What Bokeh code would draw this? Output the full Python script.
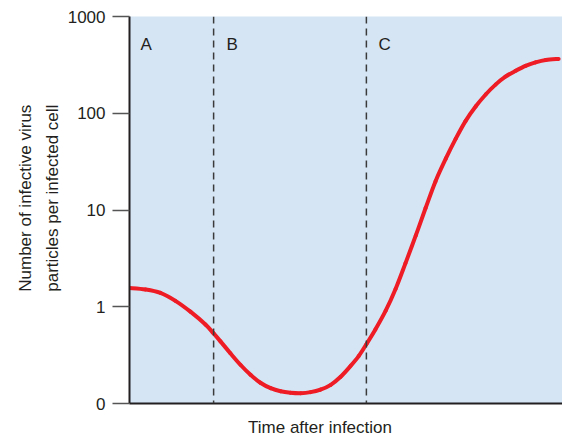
import math
from bokeh.plotting import figure
from bokeh.models import Range1d, FixedTicker, Span, Label
from bokeh.embed import file_html
from bokeh.resources import INLINE

# Time after infection (arbitrary units, 0-100) and infective particles per cell
time = [0, 3.7, 7.2, 10.7, 14.2, 17.7, 19.6, 21.2, 23.5, 25.9, 28.2, 30.5, 32.9,
        35.2, 37.5, 39.9, 42.2, 44.5, 46.9, 49.2, 51.5, 53.4, 55.2, 57.3, 59.7,
        62.0, 64.3, 66.7, 69.0, 71.3, 73.7, 76.0, 78.3, 80.7, 83.0, 85.3, 87.6,
        90.0, 92.3, 94.6, 97.0, 100]
particles = [1.563, 1.509, 1.390, 1.151, 0.889, 0.655, 0.530, 0.439, 0.331, 0.250,
             0.198, 0.164, 0.144, 0.134, 0.1295, 0.128, 0.131, 0.139, 0.156, 0.189,
             0.244, 0.309, 0.410, 0.582, 0.910, 1.527, 2.81, 5.43, 10.48, 19.76,
             33.9, 54.3, 82.9, 117.9, 156.3, 197.6, 238.6, 274.7, 308.9, 335.3,
             355.6, 364.0]

phase_bounds = [19.6, 55.2]          # dashed phase boundaries
phase_labels = ["A", "B", "C"]
y_ticks = [0.1, 1, 10, 100, 1000]
y_tick_labels = ["0", "1", "10", "100", "1000"]

FONT = "Liberation Sans"
DARK = "#231f20"
NB = "\u00a0"

p = figure(width=562, height=439, y_axis_type="log",
           x_range=Range1d(0, 100.9), y_range=Range1d(0.1, 1000),
           output_backend="svg", toolbar_location=None,
           min_border_top=16, min_border_right=0, min_border_left=129,
           min_border_bottom=31)

p.background_fill_color = "#d5e5f4"
p.border_fill_color = "white"
p.outline_line_color = None
p.xgrid.visible = False
p.ygrid.visible = False

# y axis
ya = p.yaxis[0]
ya.ticker = FixedTicker(ticks=y_ticks, minor_ticks=[])
ya.major_label_overrides = {t: l for t, l in zip(y_ticks, y_tick_labels)}
ya.major_tick_out = 17
ya.major_tick_in = 0
ya.minor_tick_out = 0
ya.minor_tick_in = 0
ya.major_tick_line_color = "#555555"
ya.major_tick_line_width = 1.5
ya.axis_line_color = DARK
ya.axis_line_width = 2
ya.major_label_standoff = 7
ya.major_label_text_font = FONT
ya.major_label_text_font_size = "17px"
ya.major_label_text_color = DARK
ya.axis_label = NB * 5 + "Number of infective virus\n" + NB * 5 + "particles per infected cell"
ya.axis_label_text_font = FONT
ya.axis_label_text_font_size = "17px"
ya.axis_label_text_font_style = "normal"
ya.axis_label_text_color = DARK
ya.axis_label_text_line_height = 1.38
ya.axis_label_standoff = 3

# x axis
xa = p.xaxis[0]
xa.ticker = FixedTicker(ticks=[])
xa.major_tick_out = 0
xa.major_tick_in = 0
xa.minor_tick_out = 0
xa.minor_tick_in = 0
xa.major_label_text_font_size = "0px"
xa.major_label_standoff = 0
xa.axis_line_color = DARK
xa.axis_line_width = 2
xa.axis_label = "Time after infection" + NB * 11
xa.axis_label_text_font = FONT
xa.axis_label_text_font_size = "17px"
xa.axis_label_text_font_style = "normal"
xa.axis_label_text_color = DARK
xa.axis_label_standoff = 14

for b in phase_bounds:
    p.add_layout(Span(location=b, dimension="height", line_color="#3a3a3a",
                      line_width=1.5, line_dash="7 5"))

label_x = [0] + phase_bounds
offsets = [11, 13, 12]
for lx, off, txt in zip(label_x, offsets, phase_labels):
    p.add_layout(Label(x=lx, y=1000, x_offset=off, y_offset=-18, text=txt,
                       text_baseline="top", text_font=FONT, text_font_size="17px",
                       text_color=DARK))

# Smooth curve through the read points: Catmull-Rom segments drawn as Beziers
ly = [math.log10(v) for v in particles]
n = len(time)
x0, y0, x1, y1, cx0, cy0, cx1, cy1 = [], [], [], [], [], [], [], []
for i in range(n - 1):
    im, ip2 = max(i - 1, 0), min(i + 2, n - 1)
    x0.append(time[i]); y0.append(particles[i])
    x1.append(time[i + 1]); y1.append(particles[i + 1])
    cx0.append(time[i] + (time[i + 1] - time[im]) / 6)
    cy0.append(10 ** (ly[i] + (ly[i + 1] - ly[im]) / 6))
    cx1.append(time[i + 1] - (time[ip2] - time[i]) / 6)
    cy1.append(10 ** (ly[i + 1] - (ly[ip2] - ly[i]) / 6))

p.bezier(x0=x0, y0=y0, x1=x1, y1=y1, cx0=cx0, cy0=cy0, cx1=cx1, cy1=cy1,
         line_color="#ee1c25", line_width=4, line_cap="round")

open("out.html", "w").write(file_html(p, INLINE))
